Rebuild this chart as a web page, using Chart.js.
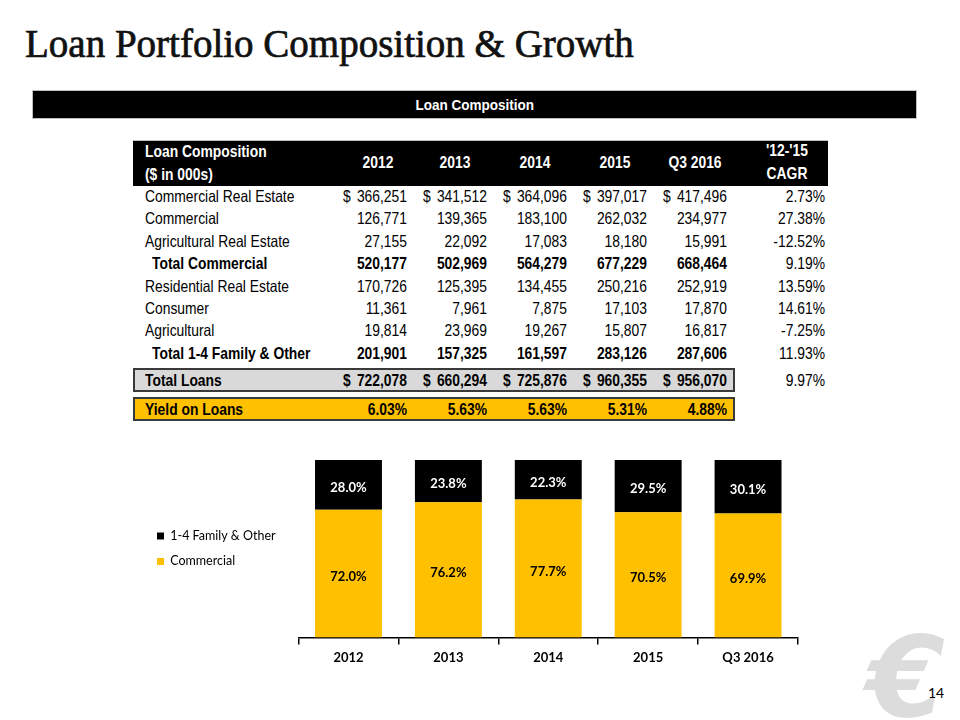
<!DOCTYPE html>
<html>
<head>
<meta charset="utf-8">
<script src="https://cdn.jsdelivr.net/npm/chart.js@4.4.1/dist/chart.umd.min.js"></script>
<style>
  body { margin: 0; background: #fff; }
  #page { position: relative; width: 960px; height: 720px; overflow: hidden; }
  #title {
    position: absolute; left: 25px; top: 21px;
    font-family: "Liberation Serif", serif; font-weight: normal; font-size: 39px; color: #111;
    -webkit-text-stroke: 0.7px #111;
  }
  #band {
    position: absolute; left: 32px; top: 90px; width: 883px; height: 27px;
    background: #000; border: 1px solid #bfbfbf; color: #fff; text-align: center;
    font-family: "Liberation Sans", sans-serif; font-weight: bold;
    font-size: 15px; line-height: 27px;
  }
  #band span { display: inline-block; transform: scaleX(0.9); }
  #table { position: absolute; left: 0; top: 0; width: 960px; height: 440px;
    font-family: "Liberation Sans", sans-serif; font-size: 16.5px; color: #000; }
  #table div { position: absolute; white-space: nowrap; }
  .cell { height: 22px; line-height: 22px; }
  #head { left: 133px; top: 140px; width: 695px; height: 45px; background: #000; border-top: 1px solid #bfbfbf; }
  .hd { color: #fff; font-weight: bold; }
  .box { left: 133px; width: 598px; height: 20px; border: 2px solid #3a3a3a; }
  #sales-wrap { position: absolute; left: 144px; top: 450px; width: 666px; height: 226px; }
  #logo {
    position: absolute; left: 867px; top: 612px; font-family: "DejaVu Sans", sans-serif;
    font-weight: bold; font-style: italic; font-size: 112px; color: #dcdcdc;
  }
  #pageNum { position: absolute; left: 928px; top: 684px; font-family: Lato, sans-serif; font-size: 14px; color: #000; }
</style>
</head>
<body>
<div id="page">
  <div id="title">Loan Portfolio Composition &amp; Growth</div>
  <div id="band"><span>Loan Composition</span></div>
  <div id="table"></div>
  <div id="logo">€</div>
  <div id="pageNum">14</div>
  <div id="sales-wrap"><canvas id="mix-chart" width="666" height="226"></canvas></div>
</div>
<script>
// table data
const years = ["2012", "2013", "2014", "2015", "Q3 2016"];
const commercialRealEstate = ["366,251", "341,512", "364,096", "397,017", "417,496"];
const commercialLoans = ["126,771", "139,365", "183,100", "262,032", "234,977"];
const agriRealEstate = ["27,155", "22,092", "17,083", "18,180", "15,991"];
const totalCommercial = ["520,177", "502,969", "564,279", "677,229", "668,464"];
const residentialRealEstate = ["170,726", "125,395", "134,455", "250,216", "252,919"];
const consumerLoans = ["11,361", "7,961", "7,875", "17,103", "17,870"];
const agriculturalLoans = ["19,814", "23,969", "19,267", "15,807", "16,817"];
const totalFamilyOther = ["201,901", "157,325", "161,597", "283,126", "287,606"];
const totalLoans = ["722,078", "660,294", "725,876", "960,355", "956,070"];
const yieldOnLoans = ["6.03%", "5.63%", "5.63%", "5.31%", "4.88%"];
const cagr = ["2.73%", "27.38%", "-12.52%", "9.19%", "13.59%", "14.61%", "-7.25%", "11.93%", "9.97%", ""];

// chart data
const categories = ["2012", "2013", "2014", "2015", "Q3 2016"];
const commercialShare = [72.0, 76.2, 77.7, 70.5, 69.9];
const familyOtherShare = [28.0, 23.8, 22.3, 29.5, 30.1];

const rows = [
  { label: "Commercial Real Estate", values: commercialRealEstate, dollar: true },
  { label: "Commercial", values: commercialLoans },
  { label: "Agricultural Real Estate", values: agriRealEstate },
  { label: "Total Commercial", values: totalCommercial, bold: true },
  { label: "Residential Real Estate", values: residentialRealEstate },
  { label: "Consumer", values: consumerLoans },
  { label: "Agricultural", values: agriculturalLoans },
  { label: "Total 1-4 Family & Other", values: totalFamilyOther, bold: true },
  { label: "Total Loans", values: totalLoans, dollar: true, box: "#d9d9d9" },
  { label: "Yield on Loans", values: yieldOnLoans, box: "#ffc000" },
];

const table = document.querySelector("#table");
const rightEdges = [407, 487, 567, 647, 727];
const headCenters = [378, 455, 535, 615, 695];
const narrow = 0.84; // no Arial Narrow here, squeeze the sans instead

function put(text, left, top, cls, extra) {
  const el = document.createElement("div");
  el.className = "cell " + (cls || "");
  el.textContent = text;
  el.style.left = left + "px";
  el.style.top = top + "px";
  if (extra) Object.assign(el.style, extra);
  const align = (extra && extra.textAlign) || "left";
  const origin = align === "right" ? "100% 50%" : align === "center" ? "50% 50%" : "0 50%";
  el.style.transform = `scaleX(${narrow})`;
  el.style.transformOrigin = origin;
  table.appendChild(el);
  return el;
}

const head = document.createElement("div");
head.id = "head";
table.appendChild(head);
put("Loan Composition", 145, 140, "hd");
put("($ in 000s)", 145, 163, "hd");
years.forEach((y, i) => {
  put(y, headCenters[i] - 40, 151, "hd", { width: "80px", textAlign: "center" });
});
put("'12-'15", 747, 139, "hd", { width: "80px", textAlign: "center" });
put("CAGR", 747, 162, "hd", { width: "80px", textAlign: "center" });

rows.forEach((row, r) => {
  let top = 185 + r * 22.4;
  if (row.box === "#d9d9d9") top = 369;
  if (row.box === "#ffc000") top = 398;
  if (row.box) {
    const b = document.createElement("div");
    b.className = "box";
    b.style.top = top - 1 + "px";
    b.style.background = row.box;
    table.appendChild(b);
  }
  const weight = row.bold || row.box ? "bold" : "normal";
  const indent = row.bold ? 152 : 145;
  put(row.label, indent, top, "", { fontWeight: weight });
  row.values.forEach((v, i) => {
    put(v, rightEdges[i] - 90, top, "", { width: "90px", textAlign: "right", fontWeight: weight });
    if (row.dollar) put("$", rightEdges[i] - 64, top, "", { fontWeight: weight });
  });
  if (cagr[r]) put(cagr[r], 745, top, "", { width: "80px", textAlign: "right" });
});

// bar labels inside segments
const segmentLabels = {
  id: "segmentLabels",
  afterDatasetsDraw(chart) {
    const ctx = chart.ctx;
    ctx.save();
    ctx.font = "bold 13px Lato";
    ctx.textAlign = "center";
    ctx.textBaseline = "middle";
    chart.data.datasets.forEach((ds, i) => {
      chart.getDatasetMeta(i).data.forEach((bar, j) => {
        const { x, y, base } = bar.getProps(["x", "y", "base"], true);
        ctx.fillStyle = ds.labelColor;
        ctx.fillText(ds.data[j].toFixed(1) + "%", x, (y + base) / 2 + 3);
      });
    });
    ctx.restore();
  },
};

const config = {
  type: "bar",
  data: {
    labels: categories,
    datasets: [
      {
        label: "Commercial",
        data: commercialShare,
        backgroundColor: "#ffc000",
        labelColor: "#000",
      },
      {
        label: "1-4 Family & Other",
        data: familyOtherShare,
        backgroundColor: "#000",
        labelColor: "#fff",
      },
    ],
  },
  options: {
    responsive: false,
    animation: false,
    barPercentage: 0.67,
    categoryPercentage: 1,
    layout: { padding: { top: 10, right: 12, bottom: 4, left: 0 } },
    plugins: {
      legend: {
        position: "left",
        fullSize: false,
        reverse: true,
        labels: {
          boxWidth: 7,
          boxHeight: 7,
          padding: 13,
          color: "#000",
          font: { family: "Lato", size: 12.5 },
        },
      },
      tooltip: { enabled: false },
    },
    scales: {
      x: {
        stacked: true,
        grid: { drawOnChartArea: false, drawTicks: true, tickLength: 7, color: "#000", lineWidth: 1.5 },
        border: { display: true, color: "#000", width: 1.5 },
        ticks: { color: "#000", padding: 6, font: { family: "Lato", size: 13, weight: "bold" } },
      },
      y: {
        stacked: true,
        min: 0,
        max: 100,
        grid: { display: false },
        border: { display: false },
        ticks: { display: false },
        afterFit: (scale) => { scale.width = 13; },
      },
    },
  },
  plugins: [segmentLabels],
};

const ctx = document.getElementById("mix-chart").getContext("2d");
const mixChart = new Chart(ctx, config);
</script>
</body>
</html>
